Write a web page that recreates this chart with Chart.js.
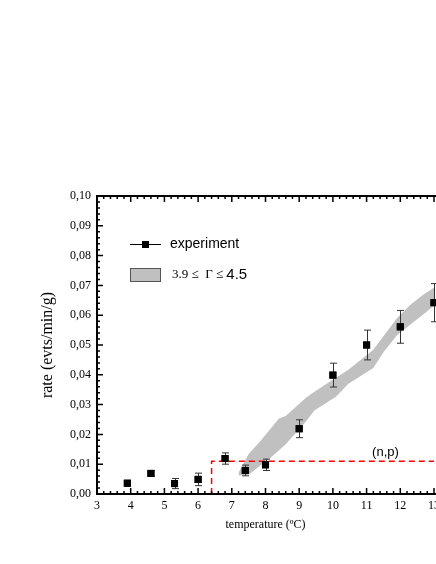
<!DOCTYPE html>
<html>
<head>
<meta charset="utf-8">
<script src="https://cdn.jsdelivr.net/npm/chart.js@4/dist/chart.umd.min.js"></script>
<style>
  html, body { margin: 0; padding: 0; background: #fff; }
</style>
</head>
<body>
<canvas id="myChart" width="436" height="564"></canvas>
<script>
// measured points
const temperature = [3.9, 4.6, 5.3, 6.0, 6.8, 7.4, 8.0, 9.0, 10.0, 11.0, 12.0, 13.0];
const rate = [0.0036, 0.0069, 0.0035, 0.0049, 0.0119, 0.0079, 0.0098, 0.0219, 0.0399, 0.0500, 0.0561, 0.0642];
const rateErr = [0.001, 0.001, 0.0017, 0.0021, 0.0019, 0.0018, 0.0019, 0.003, 0.004, 0.005, 0.0055, 0.0064];

// 3.9 <= Gamma <= 4.5 band edges (same x for both edges)
const bandX = [7.2, 7.5, 7.85, 8.15, 8.4, 8.6, 9.2, 9.45, 10.1, 10.45, 11.2, 11.5, 11.9, 12.3, 12.5, 12.7, 13.1];
const bandUpper = [0.0072, 0.0134, 0.0178, 0.0219, 0.0253, 0.0262, 0.0323, 0.0343, 0.0391, 0.0416, 0.0484, 0.0529, 0.0590, 0.0635, 0.0653, 0.0670, 0.0699];
const bandLower = [0.0062, 0.0065, 0.0096, 0.0122, 0.0147, 0.0167, 0.0243, 0.0280, 0.0327, 0.0369, 0.0423, 0.0476, 0.0533, 0.0569, 0.0586, 0.0604, 0.0642];

// (n,p) threshold
const npX = [6.4, 6.4, 13.2];
const npY = [0, 0.011, 0.011];

const xMin = 3, xMax = 13;
const yMin = 0, yMax = 0.10;

const SERIF = '"Liberation Serif", "DejaVu Serif", serif';
const SANS = '"Liberation Sans", Arial, sans-serif';

const toXY = (xs, ys) => xs.map((x, i) => ({ x: x, y: ys[i] }));

// error bars, inward ticks, frame, legend, label
const decor = {
  id: 'decor',
  afterDatasetsDraw(chart) {
    const ctx = chart.ctx;
    const xs = chart.scales.x, ys = chart.scales.y;
    ctx.save();
    ctx.strokeStyle = '#333';
    ctx.lineWidth = 1;
    temperature.forEach((t, i) => {
      const px = Math.round(xs.getPixelForValue(t)) + 0.5;
      const top = ys.getPixelForValue(rate[i] + rateErr[i]);
      const bot = ys.getPixelForValue(rate[i] - rateErr[i]);
      ctx.beginPath();
      ctx.moveTo(px, top); ctx.lineTo(px, bot);
      ctx.moveTo(px - 3.5, top); ctx.lineTo(px + 3.5, top);
      ctx.moveTo(px - 3.5, bot); ctx.lineTo(px + 3.5, bot);
      ctx.stroke();
    });
    // squares again so they sit over the bars
    ctx.fillStyle = '#000';
    temperature.forEach((t, i) => {
      const px = xs.getPixelForValue(t), py = ys.getPixelForValue(rate[i]);
      ctx.fillRect(px - 3.5, py - 3.5, 7, 7);
    });
    ctx.font = '13px ' + SANS;
    ctx.textAlign = 'center';
    ctx.textBaseline = 'middle';
    ctx.fillText('(n,p)', xs.getPixelForValue(11.56), ys.getPixelForValue(0.0139));
    ctx.restore();
  },
  afterDraw(chart) {
    const ctx = chart.ctx;
    const a = chart.chartArea;
    const xs = chart.scales.x, ys = chart.scales.y;
    ctx.save();
    ctx.strokeStyle = '#000';
    ctx.lineWidth = 2;
    ctx.beginPath();
    ctx.moveTo(a.left, a.top); ctx.lineTo(a.left, a.bottom + 1);
    ctx.moveTo(a.left - 1, a.bottom); ctx.lineTo(chart.width, a.bottom);
    ctx.moveTo(a.left - 1, a.top); ctx.lineTo(chart.width, a.top);
    ctx.stroke();

    ctx.lineWidth = 1.5;
    ctx.beginPath();
    for (let k = 0; k <= (xMax - xMin) * 5; k++) {
      const v = xMin + k * 0.2;
      const px = xs.getPixelForValue(v);
      const len = k % 5 === 0 ? 6 : 3;
      ctx.moveTo(px, a.bottom); ctx.lineTo(px, a.bottom - len);
      ctx.moveTo(px, a.top); ctx.lineTo(px, a.top + len);
    }
    for (let k = 0; k <= 50; k++) {
      const py = ys.getPixelForValue(k * 0.002);
      const len = k % 5 === 0 ? 6 : 3;
      ctx.moveTo(a.left, py); ctx.lineTo(a.left + len, py);
    }
    ctx.stroke();

    // legend
    ctx.lineWidth = 1;
    ctx.strokeStyle = '#000';
    ctx.beginPath();
    ctx.moveTo(130, 244.5); ctx.lineTo(161, 244.5);
    ctx.stroke();
    ctx.fillStyle = '#000';
    ctx.fillRect(142, 241, 7, 7);
    ctx.font = '14px ' + SANS;
    ctx.textAlign = 'left';
    ctx.textBaseline = 'middle';
    ctx.fillText('experiment', 170, 244.5);

    ctx.fillStyle = 'rgb(192,192,192)';
    ctx.fillRect(130, 268, 30, 13);
    ctx.strokeStyle = '#555';
    ctx.strokeRect(130.5, 268.5, 30, 13);
    ctx.fillStyle = '#000';
    ctx.font = '13px ' + SERIF;
    const part = '3.9 \u2264  \u0393 \u2264 ';
    ctx.fillText(part, 172, 275);
    const w = ctx.measureText(part).width;
    ctx.font = '15px ' + SANS;
    ctx.fillText('4.5', 172 + w, 275);
    ctx.restore();
  }
};

new Chart(document.getElementById('myChart').getContext('2d'), {
  type: 'scatter',
  data: {
    datasets: [
      {
        label: 'experiment',
        data: toXY(temperature, rate),
        pointStyle: 'rect',
        pointRadius: 5,
        backgroundColor: '#000',
        borderWidth: 0,
        showLine: false,
        clip: false,
        order: 0
      },
      {
        label: '(n,p)',
        data: toXY(npX, npY),
        showLine: true,
        borderColor: '#ff0000',
        borderWidth: 1.5,
        borderDash: [6, 4],
        pointRadius: 0,
        fill: false,
        order: 1
      },
      {
        label: 'band upper',
        data: toXY(bandX, bandUpper),
        showLine: true,
        borderWidth: 0,
        borderColor: 'rgba(0,0,0,0)',
        backgroundColor: 'rgb(192,192,192)',
        pointRadius: 0,
        fill: '+1',
        order: 2
      },
      {
        label: 'band lower',
        data: toXY(bandX, bandLower),
        showLine: true,
        borderWidth: 0,
        borderColor: 'rgba(0,0,0,0)',
        pointRadius: 0,
        fill: false,
        order: 3
      }
    ]
  },
  options: {
    responsive: false,
    animation: false,
    layout: { autoPadding: false, padding: { top: 196, right: 2, left: 0, bottom: 0 } },
    plugins: { legend: { display: false }, tooltip: { enabled: false } },
    scales: {
      x: {
        type: 'linear',
        min: xMin, max: xMax,
        grid: { display: false, drawTicks: false },
        border: { display: false },
        afterFit: s => { s.height = 70; s.paddingLeft = 0; s.paddingRight = 0; },
        ticks: {
          stepSize: 1, padding: 5, color: '#000', maxRotation: 0,
          font: { family: SERIF, size: 12 }
        },
        title: {
          display: true, text: 'temperature (\u00baC)', color: '#000',
          font: { family: SERIF, size: 12 },
          padding: { top: 0, bottom: 32 }
        }
      },
      y: {
        type: 'linear',
        min: yMin, max: yMax,
        grid: { display: false, drawTicks: false },
        border: { display: false },
        afterFit: s => { s.width = 97; s.paddingTop = 0; s.paddingBottom = 0; },
        ticks: {
          stepSize: 0.01, padding: 6, color: '#000',
          font: { family: SERIF, size: 12 },
          callback: v => v.toFixed(2).replace('.', ',')
        },
        title: {
          display: true, text: 'rate (evts/min/g)', color: '#000',
          font: { family: SERIF, size: 16 },
          padding: { top: 38, bottom: 0 }
        }
      }
    }
  },
  plugins: [decor]
});
</script>
</body>
</html>
